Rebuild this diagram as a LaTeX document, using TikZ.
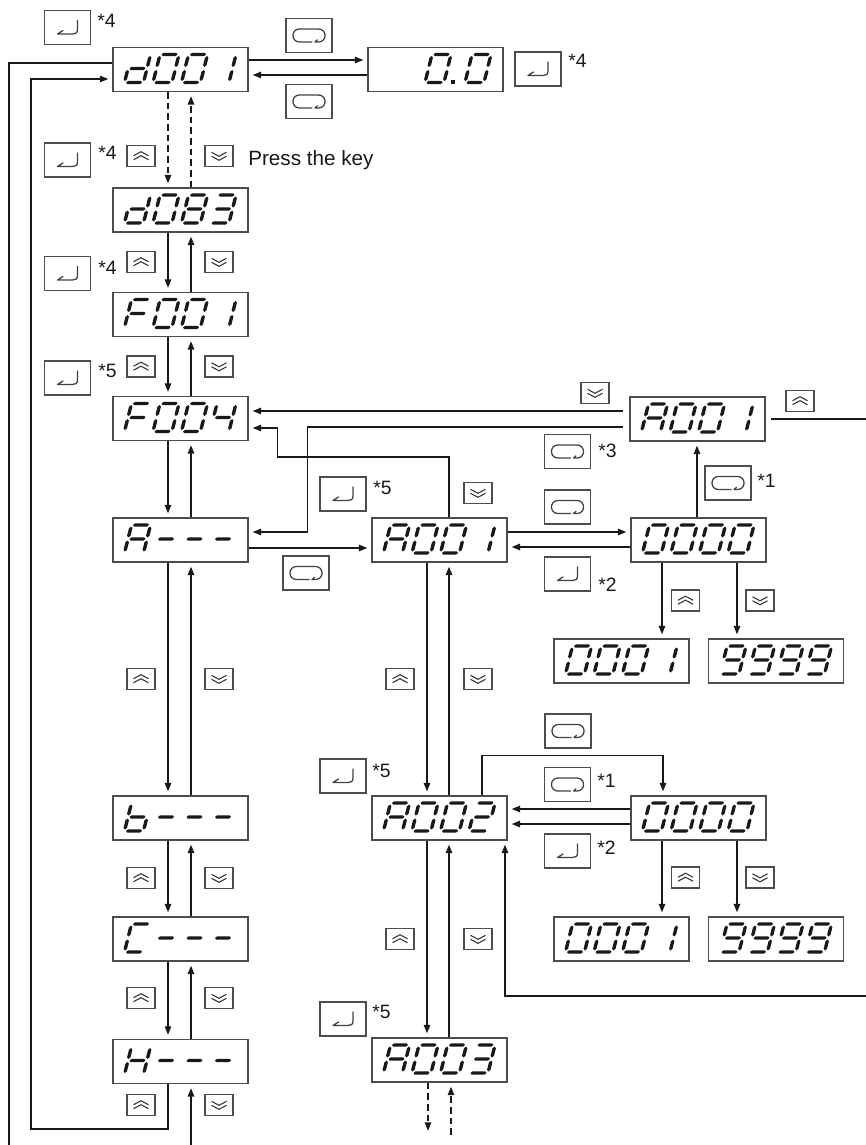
\documentclass[tikz,border=0pt]{standalone}
\usepackage{fontspec}
\setmainfont{Liberation Sans}
\usetikzlibrary{arrows.meta,calc}
% seven-segment pieces (u right, -v up), used inside a slanted scope
\newcommand\hsg[3]{\fill[segf] (#1,-#3) -- (#1+1.7,-#3-1.7) -- (#2-1.7,-#3-1.7) -- (#2,-#3) -- (#2-1.7,-#3+1.7) -- (#1+1.7,-#3+1.7) -- cycle;}
\newcommand\vsg[3]{\fill[segf] (#1,-#2) -- (#1+1.7,-#2-1.7) -- (#1+1.7,-#3+1.7) -- (#1,-#3) -- (#1-1.7,-#3+1.7) -- (#1-1.7,-#2-1.7) -- cycle;}
\def\sgma{\hsg{1.5}{17.5}{28}}
\def\sgmb{\vsg{19}{15.5}{26.5}}
\def\sgmc{\vsg{19}{1.5}{12.5}}
\def\sgmd{\hsg{1.5}{17.5}{0}}
\def\sgme{\vsg{0}{1.5}{12.5}}
\def\sgmf{\vsg{0}{15.5}{26.5}}
\def\sgmg{\hsg{1.5}{17.5}{14}}
\def\Dzero{a,b,c,d,e,f}
\def\Done{b,c}
\def\Dtwo{a,b,g,e,d}
\def\Dthree{a,b,c,d,g}
\def\Dfour{b,c,f,g}
\def\Deight{a,b,c,d,e,f,g}
\def\Dnine{a,b,c,d,f,g}
\def\DA{a,b,c,e,f,g}
\def\Db{c,d,e,f,g}
\def\DC{a,d,e,f}
\def\Dd{b,c,d,e,g}
\def\DF{a,e,f,g}
\def\DH{b,c,e,f,g}
\def\Ddash{g}
\newcommand\sevdigit[3]{\begin{scope}[shift={(#1,#2)},xslant=0.25]\foreach \s in #3 {\csname sgm\s\endcsname}\end{scope}}
\newcommand\dispbox[7]{%
  \node[disp] (#1) at (#2,#3) {};
  \sevdigit{#2-56}{#3+13}{#4}%
  \sevdigit{#2-27.5}{#3+13}{#5}%
  \sevdigit{#2+1}{#3+13}{#6}%
  \sevdigit{#2+29.5}{#3+13}{#7}%
}
\tikzset{
  segf/.style={fill=black!90},
  disp/.style={draw=black!70, line width=0.85pt, minimum width=101.25pt, minimum height=33pt, inner sep=0pt},
  keybox/.style={draw=black!70, line width=0.8pt, minimum width=34.5pt, minimum height=25.5pt, inner sep=0pt},
  smallkey/.style={draw=black!70, line width=0.8pt, minimum width=21pt, minimum height=15.75pt, inner sep=0pt},
  glyph/.style={line width=0.95pt, black!75, line cap=round, line join=round},
  glyphs/.style={line width=0.8pt, black!80, line join=miter},
  enterkey/.style={keybox, path picture={\begin{scope}[shift={(path picture bounding box.center)}]
      \draw[glyph] (10,-7) -- (10,2) .. controls (10,5.5) and (8,6.5) .. (5,6.5) -- (-10,6.5) -- (-4.5,3);
    \end{scope}}},
  modekey/.style={keybox, path picture={\begin{scope}[shift={(path picture bounding box.center)}]
      \draw[glyph] (3,6.5) -- (-9.5,6.5) .. controls (-18.2,6.5) and (-18.2,-6.5) .. (-9.5,-6.5) -- (9.5,-6.5) .. controls (18.2,-6.5) and (18.2,6.5) .. (9.5,6.5) -- (6,6.5) -- (8.5,4.3);
    \end{scope}}},
  upkey/.style={smallkey, path picture={\begin{scope}[shift={(path picture bounding box.center)}]
      \draw[glyphs] (-7.5,-0.3) -- (0,-4.3) -- (7.5,-0.3) (-7.5,3.7) -- (0,-0.3) -- (7.5,3.7);
    \end{scope}}},
  downkey/.style={smallkey, path picture={\begin{scope}[shift={(path picture bounding box.center)}]
      \draw[glyphs] (-7.5,-3.7) -- (0,0.3) -- (7.5,-3.7) (-7.5,0.3) -- (0,4.3) -- (7.5,0.3);
    \end{scope}}},
  star/.style={anchor=base west, inner sep=0pt, font=\fontsize{14.5}{17}\selectfont, text=black!90},
  line/.style={line width=1.3pt, black!90},
  arr/.style={line, -{Triangle[length=6.5pt,width=4.8pt]}, shorten >=3pt},
  dsh/.style={dash pattern=on 5pt off 3pt},
}
\begin{document}
\begin{tikzpicture}[x=0.75pt,y=-0.75pt]
\useasboundingbox (0,0) rectangle (866,1145);
% ---------------- displays ----------------
\dispbox{d001}{180.5}{69.5}{\Dd}{\Dzero}{\Dzero}{\Done}
\dispbox{d083}{180.5}{210}{\Dd}{\Dzero}{\Deight}{\Dthree}
\dispbox{F001}{180.5}{314.5}{\DF}{\Dzero}{\Dzero}{\Done}
\dispbox{F004}{180.5}{418.5}{\DF}{\Dzero}{\Dzero}{\Dfour}
\dispbox{Adash}{180.5}{540}{\DA}{\Ddash}{\Ddash}{\Ddash}
\dispbox{bdash}{180.5}{818}{\Db}{\Ddash}{\Ddash}{\Ddash}
\dispbox{Cdash}{180.5}{939}{\DC}{\Ddash}{\Ddash}{\Ddash}
\dispbox{Hdash}{180.5}{1061.5}{\DH}{\Ddash}{\Ddash}{\Ddash}
\dispbox{A001m}{439.5}{540}{\DA}{\Dzero}{\Dzero}{\Done}
\dispbox{A002}{439.5}{818}{\DA}{\Dzero}{\Dzero}{\Dtwo}
\dispbox{A003}{439.5}{1060}{\DA}{\Dzero}{\Dzero}{\Dthree}
\dispbox{A001t}{697.5}{419}{\DA}{\Dzero}{\Dzero}{\Done}
\dispbox{Z0a}{698.5}{540}{\Dzero}{\Dzero}{\Dzero}{\Dzero}
\dispbox{Z1a}{621.5}{661}{\Dzero}{\Dzero}{\Dzero}{\Done}
\dispbox{N9a}{776}{661}{\Dnine}{\Dnine}{\Dnine}{\Dnine}
\dispbox{Z0b}{698.5}{818}{\Dzero}{\Dzero}{\Dzero}{\Dzero}
\dispbox{Z1b}{621.5}{939}{\Dzero}{\Dzero}{\Dzero}{\Done}
\dispbox{N9b}{776}{939}{\Dnine}{\Dnine}{\Dnine}{\Dnine}
\node[disp] (v00) at (435.5,69.5) {};
\sevdigit{425}{82.5}{\Dzero}
\sevdigit{465}{82.5}{\Dzero}
\fill[black!90] (451,84) rectangle (454.5,80.5);
% ---------------- enter keys ----------------
\node[enterkey] (e1) at (67.5,27.5) {};
\node[star] (s1) at (97,28) {*4};
\node[enterkey] (e2) at (538,69) {};
\node[star] (s2) at (568,68) {*4};
\node[enterkey] (e3) at (67.5,160) {};
\node[star] (s3) at (98,160) {*4};
\node[enterkey] (e4) at (67.5,273.5) {};
\node[star] (s4) at (98,274) {*4};
\node[enterkey] (e5) at (67.5,378) {};
\node[star] (s5) at (98,377) {*5};
\node[enterkey] (e6) at (343,494) {};
\node[star] (s6) at (373,494) {*5};
\node[enterkey] (e7) at (567.5,574) {};
\node[star] (s7) at (598,591) {*2};
\node[enterkey] (e8) at (343,776) {};
\node[star] (s8) at (372,777) {*5};
\node[enterkey] (e9) at (567.5,851) {};
\node[star] (s9) at (597,854) {*2};
\node[enterkey] (e10) at (343,1019) {};
\node[star] (s10) at (372,1018) {*5};
% ---------------- mode keys ----------------
\node[modekey] (m1) at (309,35.5) {};
\node[modekey] (m2) at (309,101.5) {};
\node[modekey] (m3) at (567.5,451.5) {};
\node[star] (s11) at (598,457) {*3};
\node[modekey] (m4) at (728,483) {};
\node[star] (s12) at (757,487) {*1};
\node[modekey] (m5) at (567.5,507) {};
\node[modekey] (m6) at (306,573) {};
\node[modekey] (m7) at (568,731) {};
\node[modekey] (m8) at (567.5,784.5) {};
\node[star] (s13) at (597,787) {*1};
% ---------------- up / down keys ----------------
\foreach \yy [count=\i] in {156,262,366.5,679,878,998,1105}{
  \node[upkey] (uL\i) at (141,\yy) {};
  \node[downkey] (dL\i) at (219,\yy) {};
}
\node[upkey] (uM1) at (400,679) {};
\node[downkey] (dM1) at (478,679) {};
\node[upkey] (uM2) at (400,939) {};
\node[downkey] (dM2) at (478,939) {};
\node[downkey] (dM0) at (478,493) {};
\node[downkey] (dT) at (595,393) {};
\node[upkey] (uT) at (800,401) {};
\node[upkey] (uR1) at (685.5,600.5) {};
\node[downkey] (dR1) at (760,600.5) {};
\node[upkey] (uR2) at (685.5,877.5) {};
\node[downkey] (dR2) at (760,877.5) {};
\node[anchor=base west, inner sep=0pt, font=\fontsize{15.5}{18}\selectfont, text=black!90] (press) at (248,166) {Press the key};
% ---------------- connectors ----------------
% d001 <-> 0.0
\draw[arr] ($(d001.east)+(0,-9.5)$) -- ($(v00.west)+(0,-9.5)$);
\draw[arr] ($(v00.west)+(0,5.5)$) -- ($(d001.east)+(0,5.5)$);
% left column
\draw[arr,dsh] ($(d001.south)+(-12.5,0)$) -- ($(d083.north)+(-12.5,0)$);
\draw[arr,dsh] ($(d083.north)+(10.5,0)$) -- ($(d001.south)+(10.5,0)$);
\foreach \p/\q in {d083/F001,F001/F004,F004/Adash,Adash/bdash,bdash/Cdash,Cdash/Hdash}{
  \draw[arr] ($(\p.south)+(-12.5,0)$) -- ($(\q.north)+(-12.5,0)$);
  \draw[arr] ($(\q.north)+(10.5,0)$) -- ($(\p.south)+(10.5,0)$);
}
% middle column
\foreach \p/\q in {A001m/A002,A002/A003}{
  \draw[arr] ($(\p.south)+(-12.5,0)$) -- ($(\q.north)+(-12.5,0)$);
  \draw[arr] ($(\q.north)+(9.5,0)$) -- ($(\p.south)+(9.5,0)$);
}
\coordinate (a3d) at (428,1135);
\coordinate (a3u) at (451,1135);
\draw[arr,dsh] ($(A003.south)+(-11.5,0)$) -- (a3d);
\draw[arr,dsh] (a3u) -- ($(A003.south)+(11.5,0)$);
% A row
\draw[arr] ($(Adash.east)+(0,8)$) -- ($(A001m.west)+(0,8)$);
\draw[arr] ($(A001m.east)+(0,-8)$) -- ($(Z0a.west)+(0,-8)$);
\draw[arr] ($(Z0a.west)+(0,7)$) -- ($(A001m.east)+(0,7)$);
\draw[arr] ($(Z0a.north)+(-1.5,0)$) -- ($(A001t.south)+(-0.5,0)$);
\draw[arr] ($(Z0a.south)+(-36.5,0)$) -- ($(Z1a.north)+(40.5,0)$);
\draw[arr] ($(Z0a.south)+(38.5,0)$) -- ($(N9a.north)+(-39,0)$);
% returns to F004 / A---
\draw[arr,shorten <=5pt] ($(A001t.west)+(0,-8)$) -- ($(F004.east)+(0,-7.5)$);
\draw[arr,shorten <=5pt] ($(A001t.west)+(0,8)$) -| ($(Adash.east)+(59,-8)$) -- ($(Adash.east)+(0,-8)$);
\draw[arr] ($(A001m.north)+(9.5,0)$) |- ($(F004.east)+(29,38.5)$) |- ($(F004.east)+(0,9.5)$);
% A001 (top) to right edge, and back into A002
\coordinate (re1) at (866,419);
\coordinate (re2) at (866,996);
\draw[line,shorten <=4pt] (A001t.east) -- (re1);
\draw[arr] (re2) -| ($(A002.south)+(65.5,0)$);
% A002 row
\draw[arr] ($(A002.north)+(42.5,0)$) |- ($(Z0b.north)+(-35.5,-40)$) -- ($(Z0b.north)+(-35.5,0)$);
\draw[arr] ($(Z0b.west)+(0,-9)$) -- ($(A002.east)+(0,-9)$);
\draw[arr] ($(Z0b.west)+(0,6)$) -- ($(A002.east)+(0,6)$);
\draw[arr] ($(Z0b.south)+(-36.5,0)$) -- ($(Z1b.north)+(40.5,0)$);
\draw[arr] ($(Z0b.south)+(38.5,0)$) -- ($(N9b.north)+(-39,0)$);
% outer return lines
\coordinate (bl1) at (9,1145);
\coordinate (bl2) at (191,1145);
\draw[line] ($(d001.west)+(0,-6.5)$) -| (bl1);
\draw[arr] ($(Hdash.south)+(-12.5,0)$) |- (31,1129) |- ($(d001.west)+(0,9.5)$);
\draw[arr] (bl2) -- ($(Hdash.south)+(10.5,0)$);
\end{tikzpicture}
\end{document}
